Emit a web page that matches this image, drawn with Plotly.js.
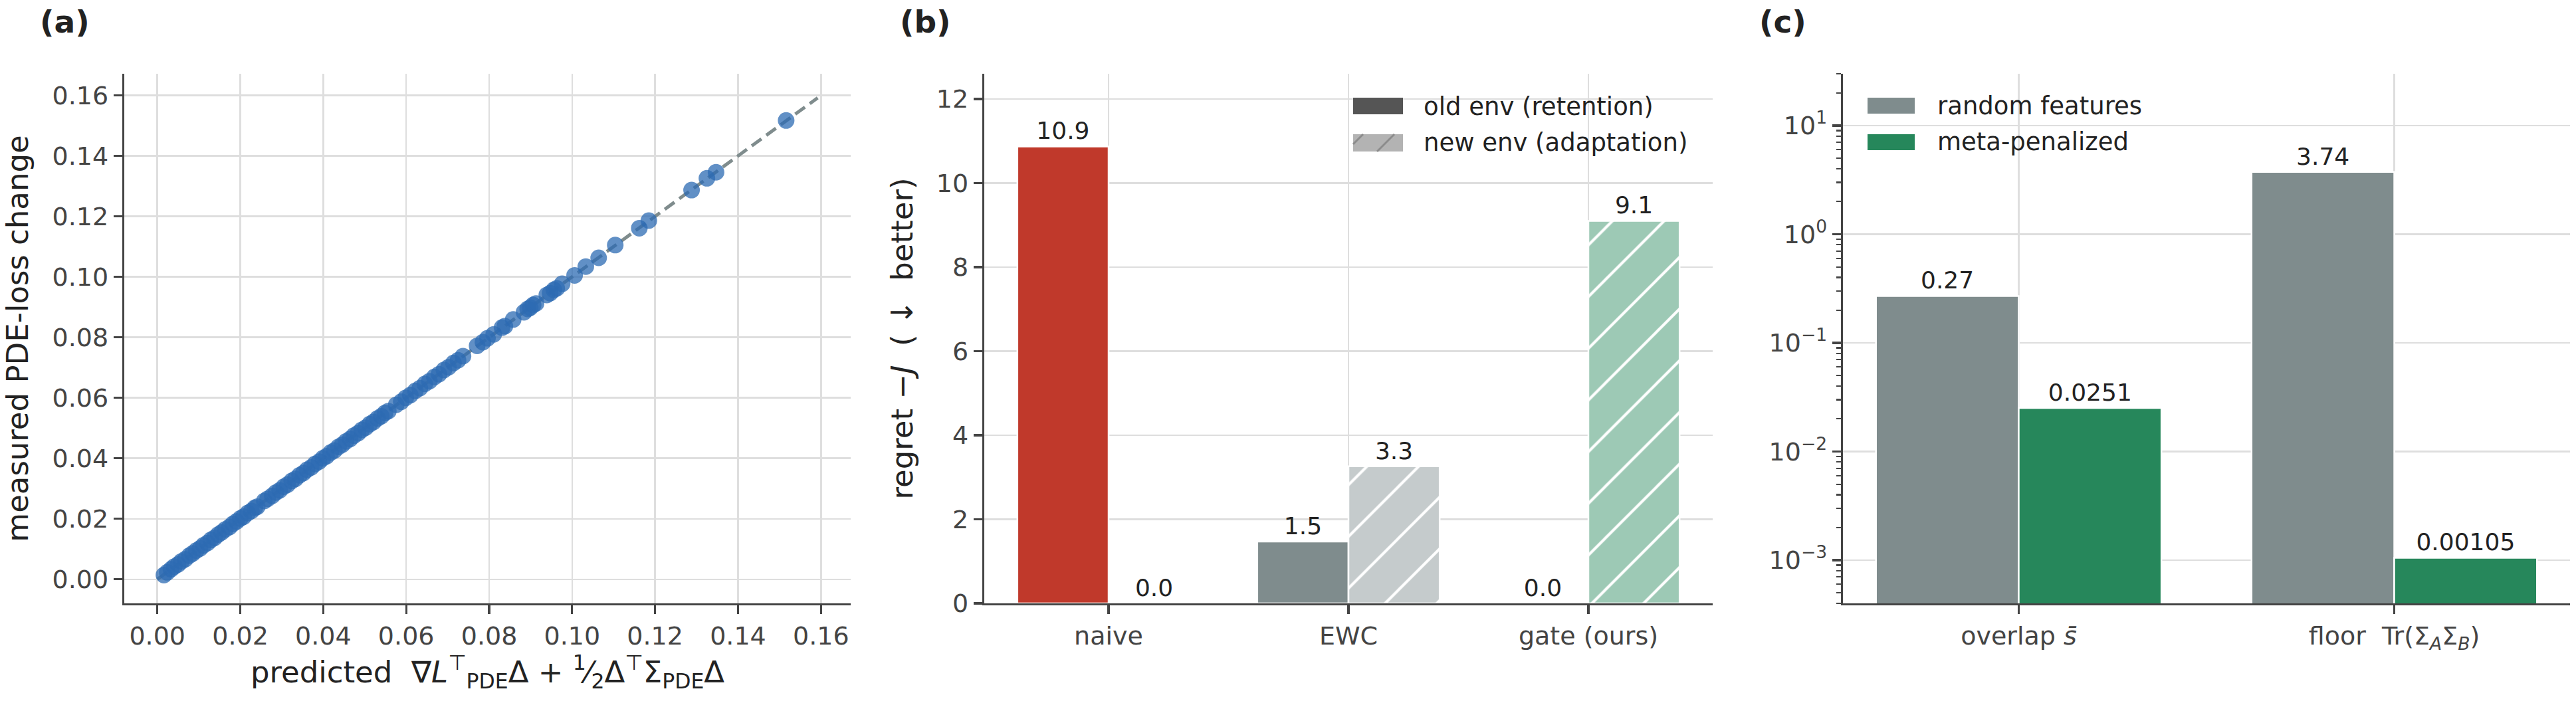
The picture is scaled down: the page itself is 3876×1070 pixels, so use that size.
<!DOCTYPE html>
<html>
<head>
<meta charset="utf-8">
<script src="https://cdn.plot.ly/plotly-3.0.1.min.js"></script>
<style>html,body{margin:0;padding:0;background:#fff;}#chart{width:3876px;height:1070px;}</style>
</head>
<body>
<div id="chart"></div>
<script>
// ---------- Panel (a) data ----------
const predicted = [
0.0016,0.0024,0.0033,0.0041,0.0050,0.0058,0.0067,0.0077,0.0085,0.0094,
0.0103,0.0111,0.0121,0.0129,0.0138,0.0147,0.0155,0.0164,0.0174,0.0182,
0.0191,0.0200,0.0208,0.0218,0.0227,0.0235,0.0241,
0.0258,0.0266,0.0277,0.0286,0.0295,0.0305,0.0314,0.0324,0.0333,0.0343,
0.0352,0.0361,0.0371,0.0380,0.0390,0.0399,0.0408,0.0418,0.0427,0.0437,
0.0446,0.0455,0.0465,0.0474,0.0484,0.0493,0.0502,0.0512,0.0521,0.0531,
0.0540,0.0549,0.0557,
0.0576,0.0588,0.0599,0.0610,0.0622,0.0633,0.0645,0.0656,0.0668,0.0679,
0.0691,0.0702,0.0714,0.0725,0.0737,
0.0771,0.0785,0.0796,0.0811,0.0831,0.0838,0.0858,0.0884,0.0893,0.0899,
0.0906,0.0913,0.0939,0.0947,0.0956,0.0963,0.0976,0.1006,0.1033,0.1064,
0.1104,0.1162,0.1185,0.1288,0.1325,0.1347,0.1516];
const measured = [
0.0014,0.0023,0.0033,0.0042,0.0049,0.0059,0.0066,0.0078,0.0085,0.0095,
0.0102,0.0112,0.0120,0.0130,0.0137,0.0148,0.0155,0.0165,0.0173,0.0183,
0.0191,0.0201,0.0207,0.0219,0.0226,0.0236,0.0240,
0.0259,0.0266,0.0276,0.0287,0.0294,0.0306,0.0313,0.0325,0.0332,0.0344,
0.0351,0.0362,0.0370,0.0381,0.0389,0.0400,0.0407,0.0419,0.0426,0.0438,
0.0445,0.0456,0.0464,0.0475,0.0483,0.0494,0.0501,0.0513,0.0520,0.0532,
0.0539,0.0550,0.0556,
0.0577,0.0587,0.0600,0.0609,0.0623,0.0632,0.0646,0.0655,0.0669,0.0678,
0.0692,0.0701,0.0715,0.0724,0.0738,
0.0772,0.0784,0.0797,0.0810,0.0832,0.0837,0.0859,0.0883,0.0894,0.0898,
0.0907,0.0912,0.0940,0.0946,0.0957,0.0962,0.0977,0.1005,0.1034,0.1063,
0.1105,0.1161,0.1186,0.1287,0.1326,0.1346,0.1517];
const refLine = [0, 0.1592];

// ---------- Panel (b) data ----------
const methods = ['naive', 'EWC', 'gate (ours)'];
const oldEnv = [10.87, 1.47, 0.0];
const newEnv = [0.0, 3.26, 9.1];

// ---------- Panel (c) data ----------
const metrics = ['overlap <i>s̄</i>', 'floor  Tr(Σ<sub><i>A</i></sub>Σ<sub><i>B</i></sub>)'];
const randomFeatures = [0.27, 3.74];
const metaPenalized = [0.0251, 0.00105];
const logTickVals = [0.001, 0.01, 0.1, 1, 10];
const logTickText = ['10<sup>−3</sup>', '10<sup>−2</sup>', '10<sup>−1</sup>', '10<sup>0</sup>', '10<sup>1</sup>'];

// ---------- styling ----------
const W = 3876, H = 1070;
const px = x => x / W, py = y => 1 - y / H;
const FONT = 'DejaVu Sans, Verdana, sans-serif';
const RED = '#c0392b', GREY = '#7f8c8d', GREEN = '#26875b';
const RED_L = '#e8a9a2', GREY_L = '#c5cbcc', GREEN_L = '#9dc9b5';
const oldColors = [RED, GREY, GREEN];
const newColors = [RED_L, GREY_L, GREEN_L];
const AX = '#444444', GRID = '#dedede', TXT = '#222222';

const yDom = [py(908), py(111)];
const axisCommon = {
  showgrid: true, gridcolor: GRID, gridwidth: 2.5,
  showline: true, linecolor: AX, linewidth: 3.3, mirror: false,
  ticks: 'outside', ticklen: 13, tickwidth: 3.3, tickcolor: AX,
  tickfont: {family: FONT, size: 38, color: AX},
  zeroline: false
};
const valueFont = {family: FONT, size: 36, color: TXT};

const traces = [
  {type: 'scatter', mode: 'lines', x: refLine, y: refLine, xaxis: 'x', yaxis: 'y',
   line: {color: GREY, width: 5, dash: '18px,9px'}, hoverinfo: 'skip', showlegend: false},
  {type: 'scatter', mode: 'markers', x: predicted, y: measured, xaxis: 'x', yaxis: 'y',
   marker: {size: 23, color: '#2d6bb3', opacity: 0.75, line: {color: '#2d6bb3', width: 2}},
   showlegend: false},
  {type: 'bar', x: methods, y: oldEnv, xaxis: 'x2', yaxis: 'y2', name: 'old env (retention)',
   offsetgroup: 'old',
   marker: {color: oldColors, line: {color: 'white', width: 2.5}},
   texttemplate: '%{y:.1f}', textposition: 'outside', cliponaxis: false, constraintext: 'none',
   textfont: valueFont, showlegend: false}
];
// new env (adaptation): one hatched bar per method, sharing one offset group
methods.forEach((m, i) => {
  traces.push({type: 'bar', x: [m], y: [newEnv[i]], xaxis: 'x2', yaxis: 'y2',
    name: 'new env (adaptation)', offsetgroup: 'new',
    marker: {color: newColors[i], line: {color: 'white', width: 2.5},
             pattern: {shape: '/', fillmode: 'overlay', bgcolor: newColors[i],
                       fgcolor: '#ffffff', fgopacity: 1, size: 55, solidity: 0.075}},
    texttemplate: '%{y:.1f}', textposition: 'outside', cliponaxis: false, constraintext: 'none',
    textfont: valueFont, showlegend: false});
});
traces.push(
  {type: 'bar', x: metrics, y: randomFeatures, xaxis: 'x3', yaxis: 'y3', name: 'random features',
   offsetgroup: 'rf',
   marker: {color: GREY, line: {color: 'white', width: 2.5}},
   texttemplate: '%{y:.3~g}', textposition: 'outside', cliponaxis: false, constraintext: 'none',
   textfont: valueFont, showlegend: false},
  {type: 'bar', x: metrics, y: metaPenalized, xaxis: 'x3', yaxis: 'y3', name: 'meta-penalized',
   offsetgroup: 'mp',
   marker: {color: GREEN, line: {color: 'white', width: 2.5}},
   texttemplate: '%{y:.3~g}', textposition: 'outside', cliponaxis: false, constraintext: 'none',
   textfont: valueFont, showlegend: false}
);

const titleFont = {family: FONT, size: 45, color: TXT};
const annFont = {family: FONT, size: 37, color: TXT};
const panelFont = {family: FONT, size: 47, color: TXT};

const layout = {
  width: W, height: H,
  margin: {l: 0, r: 0, t: 0, b: 0, pad: 0},
  paper_bgcolor: 'white', plot_bgcolor: 'white',
  font: {family: FONT, color: TXT},
  barmode: 'group', bargap: 0.24, bargroupgap: 0,
  showlegend: false,
  xaxis: Object.assign({}, axisCommon, {
    domain: [px(187), px(1280)], anchor: 'y', range: [-0.00796, 0.16716],
    tick0: 0, dtick: 0.02, tickformat: '.2f',
    title: {text: 'predicted  ∇<i>L</i><sup>⊤</sup><sub>PDE</sub>Δ + <sup>1</sup>⁄<sub>2</sub>Δ<sup>⊤</sup>Σ<sub>PDE</sub>Δ', font: titleFont, standoff: 12}
  }),
  yaxis: Object.assign({}, axisCommon, {
    domain: yDom, anchor: 'x', range: [-0.00796, 0.16716],
    tick0: 0, dtick: 0.02, tickformat: '.2f',
    title: {text: 'measured PDE-loss change', font: titleFont, standoff: 22}
  }),
  xaxis2: Object.assign({}, axisCommon, {
    domain: [px(1481), px(2577)], anchor: 'y2', type: 'category', range: [-0.518, 2.518]
  }),
  yaxis2: Object.assign({}, axisCommon, {
    domain: yDom, anchor: 'x2', range: [0, 12.6], tick0: 0, dtick: 2,
    title: {text: 'regret −<i>J</i>  ( ↓  better)', font: titleFont, standoff: 22}
  }),
  xaxis3: Object.assign({}, axisCommon, {
    domain: [px(2773), px(3867)], anchor: 'y3', type: 'category', range: [-0.468, 1.468]
  }),
  yaxis3: Object.assign({}, axisCommon, {
    domain: yDom, anchor: 'x3', type: 'log', range: [Math.log10(4e-4), Math.log10(30)],
    tickvals: logTickVals, ticktext: logTickText,
    minor: {ticks: 'outside', ticklen: 7, tickwidth: 2.2, tickcolor: AX, dtick: 'D1', showgrid: false}
  }),
  annotations: [
    {text: '<b>(a)</b>', xref: 'paper', yref: 'paper', x: px(58), y: py(32), xanchor: 'left', yanchor: 'middle', showarrow: false, font: panelFont},
    {text: '<b>(b)</b>', xref: 'paper', yref: 'paper', x: px(1352), y: py(32), xanchor: 'left', yanchor: 'middle', showarrow: false, font: panelFont},
    {text: '<b>(c)</b>', xref: 'paper', yref: 'paper', x: px(2645), y: py(32), xanchor: 'left', yanchor: 'middle', showarrow: false, font: panelFont},
    {text: 'old env (retention)', xref: 'paper', yref: 'paper', x: px(2140), y: py(160), xanchor: 'left', yanchor: 'middle', showarrow: false, font: annFont},
    {text: 'new env (adaptation)', xref: 'paper', yref: 'paper', x: px(2140), y: py(215), xanchor: 'left', yanchor: 'middle', showarrow: false, font: annFont},
    {text: 'random features', xref: 'paper', yref: 'paper', x: px(2913), y: py(159), xanchor: 'left', yanchor: 'middle', showarrow: false, font: annFont},
    {text: 'meta-penalized', xref: 'paper', yref: 'paper', x: px(2913), y: py(214), xanchor: 'left', yanchor: 'middle', showarrow: false, font: annFont}
  ],
  shapes: [
    {type: 'rect', xref: 'paper', yref: 'paper', x0: px(2036), x1: px(2111), y0: py(172), y1: py(147), fillcolor: '#555555', line: {width: 0}},
    {type: 'rect', xref: 'paper', yref: 'paper', x0: px(2036), x1: px(2111), y0: py(228), y1: py(202), fillcolor: '#b3b3b3', line: {width: 0}},
    {type: 'line', xref: 'paper', yref: 'paper', x0: px(2036), y0: py(217), x1: px(2051), y1: py(202), line: {color: '#8c8c8c', width: 3}},
    {type: 'line', xref: 'paper', yref: 'paper', x0: px(2072), y0: py(228), x1: px(2098), y1: py(202), line: {color: '#8c8c8c', width: 3}},
    {type: 'rect', xref: 'paper', yref: 'paper', x0: px(2810), x1: px(2881), y0: py(171), y1: py(147), fillcolor: GREY, line: {width: 0}},
    {type: 'rect', xref: 'paper', yref: 'paper', x0: px(2810), x1: px(2881), y0: py(226), y1: py(202), fillcolor: GREEN, line: {width: 0}}
  ]
};

Plotly.newPlot('chart', traces, layout, {staticPlot: true, displayModeBar: false});
</script>
</body>
</html>
